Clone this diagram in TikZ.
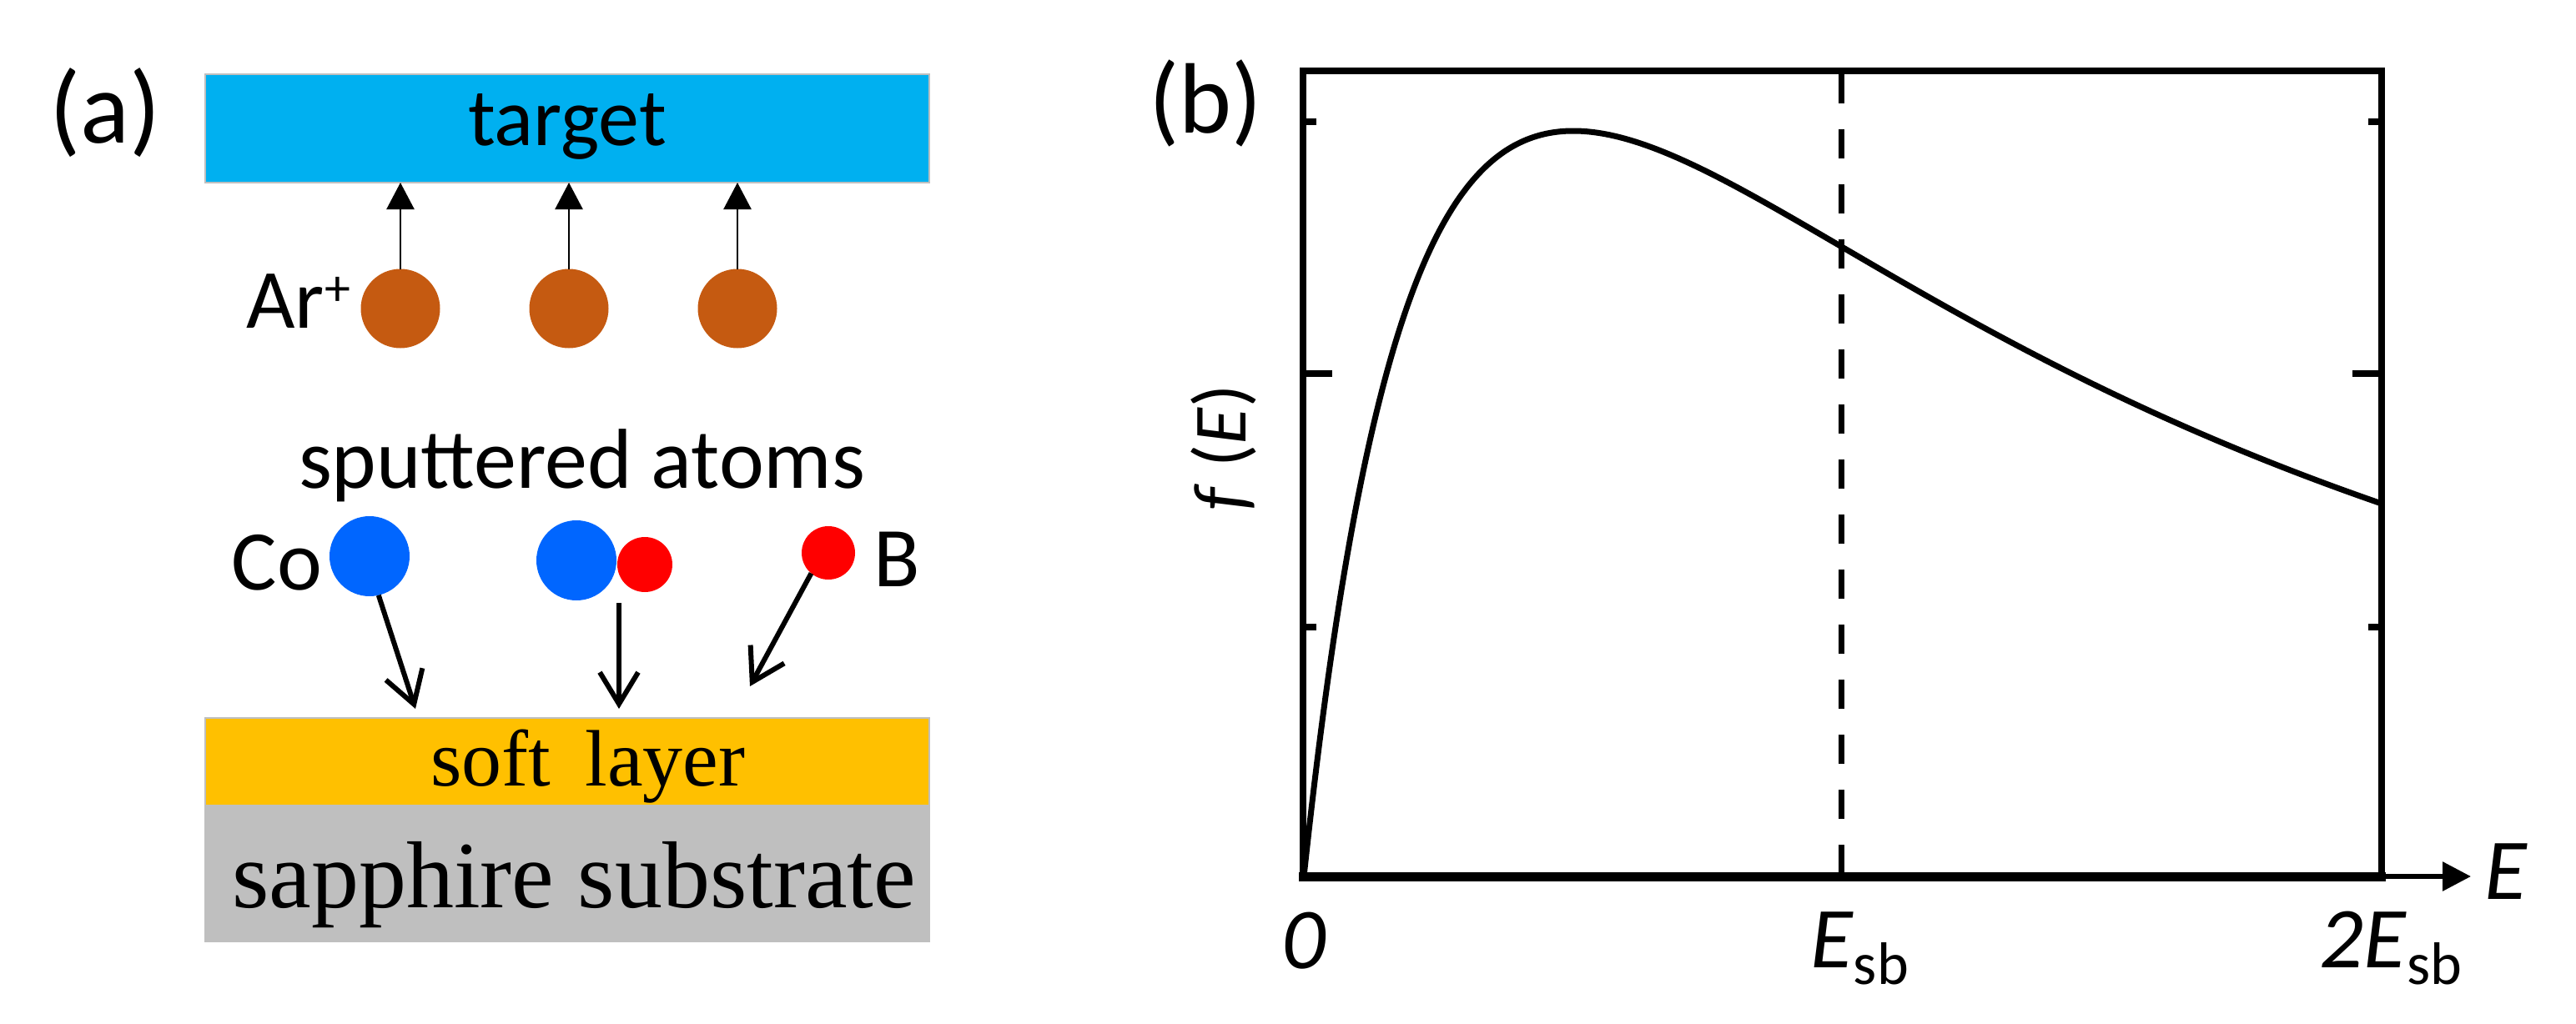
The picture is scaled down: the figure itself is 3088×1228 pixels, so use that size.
\documentclass[tikz,border=0pt]{standalone}
\usepackage{fontspec}
\setmainfont{Carlito}
\newfontfamily\serifface{Liberation Serif}
\usetikzlibrary{arrows.meta}
\definecolor{targetblue}{HTML}{00B0F0}
\definecolor{arcol}{HTML}{C55A11}
\definecolor{cocol}{HTML}{0066FF}
\definecolor{bcol}{HTML}{FF0000}
\definecolor{softcol}{HTML}{FFC000}
\definecolor{subcol}{HTML}{BFBFBF}
\begin{document}
\begin{tikzpicture}[x=1pt,y=-1pt,
  lab/.style={font=\fontsize{#1pt}{#1pt}\selectfont, inner sep=0pt, outer sep=0pt},
  serlab/.style={font=\serifface\fontsize{#1pt}{#1pt}\selectfont, inner sep=0pt, outer sep=0pt},
  layer/.style={draw=gray!50, line width=1.5pt, inner sep=0pt, outer sep=0pt, minimum width=868pt},
  ball/.style={circle, inner sep=0pt, outer sep=0pt, minimum size=#1},
  uparrow/.style={line width=2.5pt, -{Triangle[length=32pt,width=33pt]}},
  downarrow/.style={line width=6pt, -{Straight Barb[length=38pt,width=46pt]}},
  frameline/.style={line width=8pt, line join=miter},
  tickline/.style={line width=8pt}
]
\useasboundingbox (0,0) rectangle (3088,1228);

% ---------------- panel (a) ----------------
\node[lab=123, anchor=base] (pa) at (126,171) {(a)};
\node[layer, fill=targetblue, minimum height=130pt] (target) at (680,154) {};
\node[lab=98, anchor=base] (targettext) at (680,175) {target};

\node[ball=95pt, fill=arcol] (ar1) at (480,370) {};
\node[ball=95pt, fill=arcol] (ar2) at (682,370) {};
\node[ball=95pt, fill=arcol] (ar3) at (884,370) {};
\node[lab=101, anchor=base east] (arlabel) at (420,393) {Ar\raisebox{27pt}{\fontsize{62pt}{62pt}\selectfont +}};
\draw[uparrow] (ar1.north) -- (ar1.north |- target.south);
\draw[uparrow] (ar2.north) -- (ar2.north |- target.south);
\draw[uparrow] (ar3.north) -- (ar3.north |- target.south);

\node[lab=102, anchor=base west] (sputt) at (358,585) {sputtered atoms};

\node[ball=96pt, fill=cocol] (co) at (443,667) {};
\node[lab=102, anchor=base east] (colabel) at (386,707) {Co};
\node[ball=96pt, fill=cocol] (cob) at (691,672) {};
\node[ball=66pt, fill=bcol] (bb) at (773,677) {};
\node[ball=64pt, fill=bcol] (bsolo) at (993,663) {};
\node[lab=102, anchor=base west] (blabel) at (1047,703) {B};

\coordinate (cotip) at (498,850);
\coordinate (pairtail) at (742,723);
\coordinate (pairtip) at (742,850);
\coordinate (btip) at (899,823);
\draw[downarrow] (co.-77) -- (cotip);
\draw[downarrow] (pairtail) -- (pairtip);
\draw[downarrow] (bsolo.-130) -- (btip);

\node[layer, fill=softcol, minimum height=105pt] (soft) at (680,913.5) {};
\node[serlab=96, anchor=base] (softtext) at (705,942) {soft\hspace{0.43em}layer};
\node[layer, fill=subcol, minimum height=163pt] (substrate) at (680,1047.5) {};
\node[serlab=114, anchor=base] (subtext) at (688,1088) {sapphire substrate};

% ---------------- panel (b) ----------------
\node[lab=120, anchor=base] (pb) at (1445,160) {(b)};

\coordinate (origin) at (1562,1051);
\coordinate (xend) at (2855,1051);
\coordinate (xarrow) at (2962,1051);

\draw[frameline] (1562,1051) -- (1562,85) -- (2855,85) -- (2855,1051);
% ticks
\draw[tickline] (1562,146) -- (1578,146);
\draw[tickline] (1562,448) -- (1597,448);
\draw[tickline] (1562,752) -- (1578,752);
\draw[tickline] (2855,146) -- (2839,146);
\draw[tickline] (2855,448) -- (2820,448);
\draw[tickline] (2855,752) -- (2839,752);

% dashed line at E_sb
\draw[line width=7pt, dash pattern=on 35pt off 31pt] (2207,89) -- (2207,1046);

% curve f(E) ~ E/(E+Esb)^3
\draw[line width=7pt, line join=round, line cap=round]
  plot[domain=0:2, samples=400, variable=\t] ({1563+646*\t},{1051-6034.5*\t/((1+\t)^3)});

% x axis
\draw[line width=11pt] (1557,1051) -- (2860,1051);
\draw[line width=6pt, -{Triangle[length=34pt,width=34pt]}] (xend) -- (xarrow);

\node[lab=104, anchor=base] (elabel) at (3004,1078) {\textit{E}};
\node[lab=104, anchor=base] (zero) at (1563,1161) {\textit{0}};
\node[lab=104, anchor=base] (esb) at (2229,1160) {\textit{E}\raisebox{-20pt}{\fontsize{72pt}{72pt}\selectfont sb}};
\node[lab=104, anchor=base] (tesb) at (2866,1160) {\textit{2E}\raisebox{-20pt}{\fontsize{72pt}{72pt}\selectfont sb}};
\node[lab=90, rotate=90] (ylabel) at (1467,537) {\textit{f} (\textit{E})};
\end{tikzpicture}
\end{document}
